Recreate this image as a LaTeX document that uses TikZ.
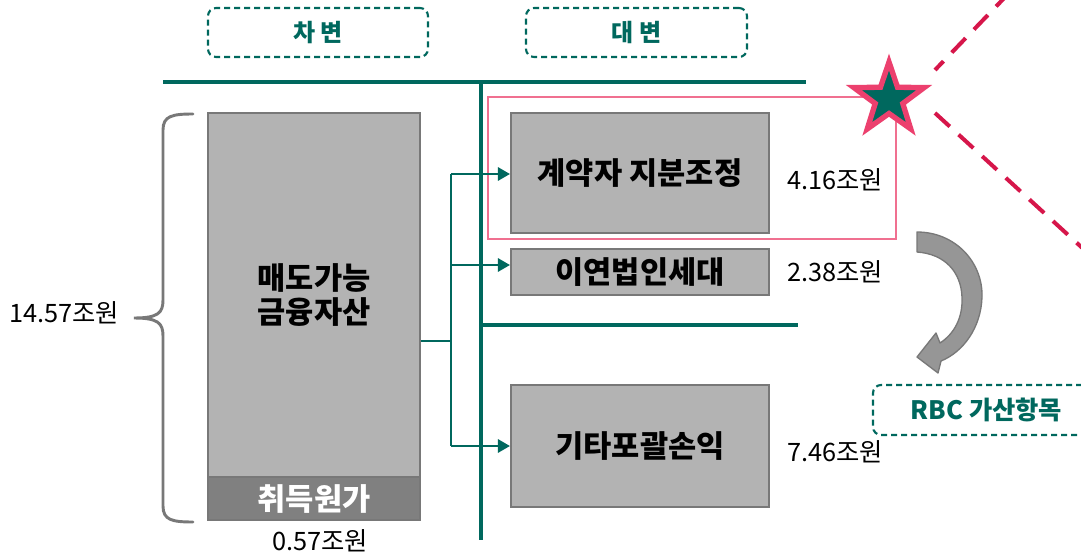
\documentclass[tikz,border=0pt]{standalone}
\usepackage{fontspec}
\setmainfont{Noto Sans CJK KR}
\usetikzlibrary{shapes.geometric,arrows.meta}
\definecolor{tgreen}{RGB}{0,104,94}
\definecolor{boxgray}{RGB}{179,179,179}
\definecolor{edgegray}{RGB}{120,120,120}
\definecolor{darkfill}{RGB}{128,128,128}
\definecolor{pinkc}{RGB}{240,112,144}
\definecolor{starpink}{RGB}{236,64,110}
\definecolor{crimson}{RGB}{214,22,74}
\definecolor{arrowgray}{RGB}{150,150,150}
\tikzset{
  graybox/.style={draw=edgegray, line width=1.6pt, fill=boxgray, inner sep=0pt, align=center, font=\bfseries\fontsize{23}{26}\selectfont},
  headbox/.style={draw=tgreen, dashed, dash pattern=on 4.5pt off 3pt, line width=1.6pt, rounded corners=6pt, inner sep=0pt, text=tgreen, font=\bfseries\fontsize{18}{21}\selectfont},
  vallabel/.style={font=\fontsize{19}{22}\selectfont, inner sep=0pt},
  thickline/.style={draw=tgreen, line width=3pt},
  conn/.style={draw=tgreen, line width=1.5pt},
  arr/.style={conn, -{Triangle[length=9pt,width=10pt]}},
  crimdash/.style={draw=crimson, line width=3pt, dash pattern=on 15pt off 9pt}
}
\begin{document}
\begin{tikzpicture}[x=0.75pt,y=-0.75pt]
\useasboundingbox (0,0) rectangle (1081,553);
\clip (0,0) rectangle (1081,553);
\fill[white] (0,0) rectangle (1081,553);

% headers
\node[headbox, minimum width={220*0.75pt}, minimum height={49*0.75pt}] (h1) at (318,32.5) {차 변};
\node[headbox, minimum width={221*0.75pt}, minimum height={49*0.75pt}] (h2) at (636.5,32.5) {대 변};

% T-account lines
\coordinate (tl) at (163,82);
\coordinate (tr) at (806,82);
\coordinate (vt) at (481,82);
\coordinate (vb) at (481,540);
\coordinate (ml) at (481,325);
\coordinate (mr) at (798,325);
\draw[thickline] (tl) -- (tr);
\draw[thickline] (vt) -- (vb);
\draw[thickline] (ml) -- (mr);

% debit side
\node[graybox, minimum width={212*0.75pt}, minimum height={364*0.75pt}] (main) at (314,295) {매도가능\\금융자산};
\node[graybox, fill=darkfill, text=white, minimum width={212*0.75pt}, minimum height={43*0.75pt}] (cost) at (314,498.5) {취득원가};
\node[vallabel] (v0) at (320,541) {0.57조원};
\node[vallabel] (vt14) at (64,313) {14.57조원};
\draw[draw=edgegray, line width=2.2pt, line cap=round]
  (193,114) .. controls (172,114) and (163,116) .. (163,130)
  -- (163,300) .. controls (163,313) and (158,318) .. (134,318)
  .. controls (158,318) and (163,323) .. (163,336)
  -- (163,506) .. controls (163,520) and (172,522) .. (193,522);

% credit side
\node[draw=pinkc, line width=2pt, minimum width={408*0.75pt}, minimum height={142*0.75pt}, inner sep=0pt] (pinkbox) at (692,168) {};
\node[graybox, minimum width={258*0.75pt}, minimum height={120*0.75pt}] (b1) at (640,173) {계약자 지분조정};
\node[graybox, minimum width={258*0.75pt}, minimum height={46*0.75pt}] (b2) at (640,272) {이연법인세대};
\node[graybox, minimum width={258*0.75pt}, minimum height={122*0.75pt}] (b3) at (640,446) {기타포괄손익};
\node[vallabel, anchor=west] (v1) at (787,180) {4.16조원};
\node[vallabel, anchor=west] (v2) at (787,272) {2.38조원};
\node[vallabel, anchor=west] (v3) at (787,452) {7.46조원};

% connectors
\coordinate (j) at (451,341);
\coordinate (jt) at (451,174);
\coordinate (jm) at (451,265);
\coordinate (jb) at (451,446);
\draw[conn] (main.east |- j) -- (j);
\draw[conn] (jt) -- (jb);
\draw[arr] (jt) -- (b1.west |- jt);
\draw[arr] (jm) -- (b2.west |- jm);
\draw[arr] (jb) -- (b3.west);

% star and dashed lines
\coordinate (d1a) at (1010,-8);
\coordinate (d1b) at (935,70);
\coordinate (d2a) at (935,113);
\coordinate (d2b) at (1090,255);
\draw[crimdash] (d1a) -- (d1b);
\draw[crimdash] (d2a) -- (d2b);
\node[star, star points=5, star point ratio=2.55, draw=starpink, fill=tgreen, line width=4pt, minimum size={74*0.75pt}, inner sep=0pt] (star) at (889,99) {};

% curved arrow
\filldraw[fill=arrowgray, draw=edgegray, line width=1pt, line join=round]
  (917,232) .. controls (955,232) and (983,262) .. (982,297)
  .. controls (981,328) and (963,352) .. (941,361)
  -- (938,373) -- (917,357) -- (936,333) -- (940,343)
  .. controls (954,334) and (963,318) .. (962,297)
  .. controls (961,272) and (945,254) .. (917,252) -- cycle;

% RBC box
\node[headbox, font=\bfseries\fontsize{19}{22}\selectfont, minimum width={227*0.75pt}, minimum height={50*0.75pt}] (rbc) at (986.5,410) {RBC 가산항목};
\end{tikzpicture}
\end{document}
